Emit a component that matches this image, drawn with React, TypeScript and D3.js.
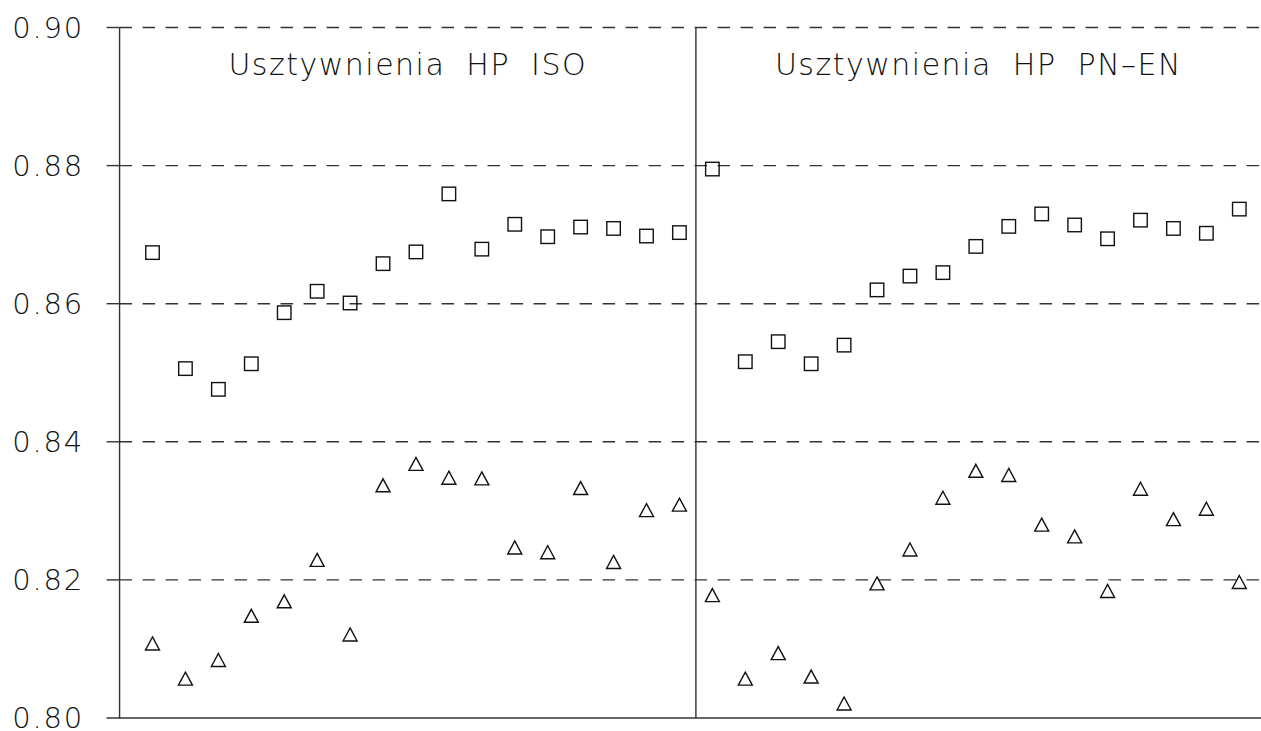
import React from "react";
import * as d3 from "d3";

const panels = ["Usztywnienia HP ISO", "Usztywnienia HP PN\u2013EN"];
const yTicks = [0.8, 0.82, 0.84, 0.86, 0.88, 0.9];
const yTickLabels = ["0.80", "0.82", "0.84", "0.86", "0.88", "0.90"];

const isoSquares = [0.8674, 0.8506, 0.8476, 0.8513, 0.8587, 0.8618, 0.8601, 0.8658, 0.8675, 0.8759, 0.8679, 0.8715, 0.8697, 0.8711, 0.8709, 0.8698, 0.8703];
const isoTriangles = [0.8108, 0.8057, 0.8084, 0.8148, 0.8169, 0.8229, 0.8121, 0.8337, 0.8368, 0.8348, 0.8347, 0.8247, 0.824, 0.8333, 0.8226, 0.8301, 0.8309];
const pnSquares = [0.8795, 0.8516, 0.8545, 0.8513, 0.854, 0.862, 0.864, 0.8645, 0.8683, 0.8712, 0.873, 0.8714, 0.8694, 0.8721, 0.8709, 0.8702, 0.8737];
const pnTriangles = [0.8178, 0.8057, 0.8094, 0.806, 0.8021, 0.8195, 0.8244, 0.8319, 0.8358, 0.8352, 0.828, 0.8263, 0.8184, 0.8332, 0.8288, 0.8303, 0.8197];

const W = 1261;
const H = 731;

export default function App() {
  const x = d3.scaleLinear().domain([0, 33]).range([152.5, 1239.3]);
  const y = d3.scaleLinear().domain([0.8, 0.9]).range([718, 27.5]);
  const xLeft = x(-1);
  const xDiv = x(16.5);
  const xRight = W;
  const n = isoSquares.length;

  const squares = [
    ...isoSquares.map((v, i) => ({ i, v })),
    ...pnSquares.map((v, i) => ({ i: i + n, v })),
  ];
  const triangles = [
    ...isoTriangles.map((v, i) => ({ i, v })),
    ...pnTriangles.map((v, i) => ({ i: i + n, v })),
  ];

  const sq = 13.5;
  const triW = 14;
  const triH = 13;
  const lineColor = "#333";
  const markColor = "#111";
  const font = "'DejaVu Sans', sans-serif";

  return (
    <svg
      width={W}
      height={H}
      style={{ position: "absolute", left: 0, top: 0, background: "#fff" }}
    >
      <rect x={0} y={0} width={W} height={H} fill="#fff" />
      {/* grid lines */}
      {yTicks.slice(1).map((t) => (
        <g key={t}>
          <line x1={xLeft - 13} x2={xLeft} y1={y(t)} y2={y(t)} stroke={lineColor} strokeWidth={1.4} />
          <line
            x1={xLeft}
            x2={xRight}
            y1={y(t)}
            y2={y(t)}
            stroke={lineColor}
            strokeWidth={1.4}
            strokeDasharray="12.5 10.5"
          />
        </g>
      ))}
      {/* bottom line */}
      <line x1={xLeft - 13} x2={xRight} y1={y(0.8)} y2={y(0.8)} stroke={lineColor} strokeWidth={1.4} />
      {/* left axis and divider */}
      <line x1={xLeft} x2={xLeft} y1={y(0.9)} y2={y(0.8)} stroke={lineColor} strokeWidth={1.4} />
      <line x1={xDiv} x2={xDiv} y1={y(0.9)} y2={y(0.8)} stroke={lineColor} strokeWidth={1.4} />
      {/* tick labels */}
      {yTicks.map((t, k) => (
        <text
          key={t}
          x={84}
          y={y(t)}
          dy="0.36em"
          textAnchor="end"
          fontFamily={font}
          fontWeight={200}
          fontSize={29}
          letterSpacing={1.8}
          fill="#111"
        >
          {yTickLabels[k]}
        </text>
      ))}
      {/* panel titles */}
      {panels.map((p, k) => (
        <text
          key={p}
          x={k === 0 ? (xLeft + xDiv) / 2 : (xDiv + xRight) / 2}
          y={75}
          textAnchor="middle"
          fontFamily={font}
          fontWeight={200}
          fontSize={30}
          letterSpacing={1.5}
          wordSpacing={10}
          fill="#111"
        >
          {p}
        </text>
      ))}
      {/* markers */}
      {squares.map((d) => (
        <rect
          key={"s" + d.i}
          x={x(d.i) - sq / 2}
          y={y(d.v) - sq / 2}
          width={sq}
          height={sq}
          fill="none"
          stroke={markColor}
          strokeWidth={1.4}
        />
      ))}
      {triangles.map((d) => {
        const cx = x(d.i);
        const cy = y(d.v);
        const path = d3.path();
        path.moveTo(cx, cy - triH / 2);
        path.lineTo(cx + triW / 2, cy + triH / 2);
        path.lineTo(cx - triW / 2, cy + triH / 2);
        path.closePath();
        return (
          <path
            key={"t" + d.i}
            d={path.toString()}
            fill="none"
            stroke={markColor}
            strokeWidth={1.4}
            strokeLinejoin="miter"
          />
        );
      })}
    </svg>
  );
}
